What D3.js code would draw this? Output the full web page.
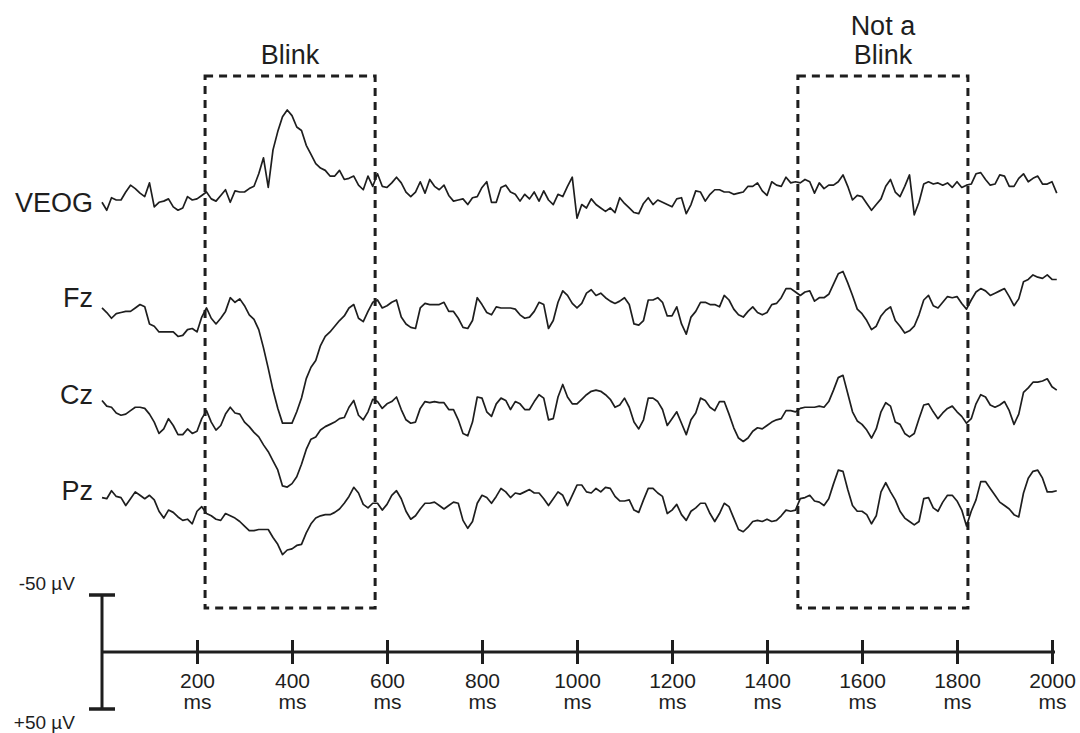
<!DOCTYPE html>
<html>
<head>
<meta charset="utf-8">
<script src="https://cdn.jsdelivr.net/npm/d3@7"></script>
<style>
  body { margin: 0; background: #fff; }
  svg { display: block; font-family: "Liberation Sans", Arial, Helvetica, sans-serif; }
</style>
</head>
<body>
<div id="plot"></div>
<script>
// One sample every 10 ms, starting at 0 ms. Values in µV (negative is drawn up).
const stepMs = 10;

const veog = [
  2, 9, -2, 0, 0, -7, -13, -10, -6, -3,
  -15, 6, 2, 1, -1, 6, 9, 7, -3, 0,
  -1, -4, -7, -1, 1, -4, -9, 2, -8, -7,
  -7, -10, -12, -23, -37, -11, -44, -60, -73, -79,
  -74, -64, -61, -48, -40, -32, -28, -26, -21, -21,
  -26, -18, -19, -21, -13, -9, -21, -12, -23, -12,
  -11, -15, -20, -15, -7, -3, -7, -16, -6, -18,
  -12, -9, -13, -4, 1, 0, -1, 4, -2, -3,
  -11, -16, 2, 2, -11, -13, -7, -5, 1, -5,
  -1, -7, 1, -8, 0, 4, -5, -3, -12, -20,
  16, 4, 7, -1, 4, 7, 10, 7, 11, -2,
  3, 7, 11, 12, 3, -2, 4, 0, 2, 4,
  6, -1, -2, 12, 4, -8, -7, 1, -5, -9,
  -9, -7, -7, -5, -6, -7, -12, -12, -15, -8,
  -4, -16, -13, -12, -20, -15, -16, -15, -18, -16,
  -6, -15, -10, -13, -13, -16, -22, -12, 0, -4,
  -3, 3, 9, 4, -1, -12, -18, -7, -3, -12,
  -22, 13, 2, -14, -16, -14, -15, -13, -15, -11,
  -16, -11, -13, -14, -23, -24, -18, -13, -14, -22,
  -21, -12, -12, -19, -23, -16, -19, -21, -14, -14, -16, -6
];

const fz = [
  7, 11, 16, 12, 11, 10, 10, 7, 4, 6,
  21, 23, 28, 28, 28, 28, 32, 31, 26, 25,
  28, 15, 7, 16, 21, 16, 10, -2, 2, -1,
  5, 13, 17, 26, 42, 60, 79, 95, 108, 108,
  108, 98, 86, 69, 59, 53, 40, 32, 28, 23,
  18, 14, 7, 4, 16, 19, 10, 2, 0, 7,
  5, 2, 0, 15, 21, 24, 25, 7, 3, 4,
  4, 4, 2, 10, 10, 16, 24, 25, 18, -2,
  4, 11, 13, 6, 7, 7, 7, 8, 13, 16,
  15, 10, 2, 4, 25, 18, 2, -8, -4, 3,
  7, 3, -6, -9, -4, -6, -2, 1, 3, 1,
  -2, 4, 21, 22, 18, 0, 0, -2, 2, 14,
  14, 6, 21, 30, 15, 10, 2, 2, 4, 4,
  6, -4, 0, 8, 13, 15, 10, 6, 11, 13,
  11, 4, 3, -2, -10, -10, -7, -4, -7, -8,
  1, -2, -2, -5, -14, -23, -25, -15, -4, 8,
  12, 18, 26, 23, 14, 9, 6, 18, 23, 29,
  27, 23, 13, 0, -4, 5, 7, 2, -3, -2,
  -3, 3, 8, 0, -7, -10, -8, -4, -6, -8,
  -10, -3, 5, -1, -16, -18, -22, -20, -19, -22, -18, -18
];

const cz = [
  3, 8, 9, 14, 16, 15, 12, 9, 9, 10,
  15, 22, 32, 28, 19, 25, 33, 33, 28, 32,
  30, 19, 12, 22, 29, 25, 15, 9, 14, 15,
  22, 26, 31, 35, 42, 48, 56, 64, 78, 79,
  76, 70, 59, 46, 37, 35, 29, 26, 24, 22,
  19, 18, 9, 3, 16, 20, 13, 2, 4, 10,
  6, 4, 0, 11, 20, 23, 22, 10, 4, 5,
  4, 5, 5, 11, 11, 20, 32, 34, 22, 0,
  1, 13, 17, 6, 1, 3, 11, 4, 6, 11,
  11, 4, -2, 1, 20, 19, 0, -11, 0, 6,
  6, 2, -2, -5, -6, -5, -2, 2, 9, 7,
  1, 9, 22, 28, 20, 1, 1, 4, 11, 25,
  19, 13, 23, 33, 20, 14, 1, 3, 9, 12,
  4, 4, 15, 27, 36, 39, 36, 30, 27, 28,
  25, 22, 20, 19, 12, 12, 13, 10, 9, 9,
  9, 8, 9, 4, -6, -17, -19, -3, 13, 21,
  24, 29, 36, 28, 13, 5, 8, 22, 24, 32,
  35, 32, 19, 7, 6, 13, 19, 14, 10, 8,
  13, 17, 23, 19, 6, -2, 0, 7, 9, 7,
  4, 12, 24, 15, -4, -8, -13, -13, -14, -16, -9, -6
];

const pz = [
  4, 5, -2, 3, 4, 11, 5, -1, 2, 5,
  2, 6, 16, 22, 15, 17, 21, 24, 23, 27,
  16, 12, 18, 20, 23, 24, 18, 20, 22, 25,
  29, 33, 33, 32, 32, 32, 39, 45, 54, 50,
  49, 46, 45, 35, 27, 22, 20, 19, 19, 17,
  14, 9, 3, -5, 0, 10, 13, 9, 9, 15,
  10, 2, -2, 5, 16, 23, 20, 14, 9, 9,
  8, 11, 14, 11, 8, 9, 24, 31, 25, 9,
  2, 4, 9, 3, -4, -1, 4, 0, 1, -1,
  -3, 0, 0, 5, 11, 5, -1, 2, 11, 2,
  -7, -7, -1, 0, -4, -1, -5, -4, 3, 7,
  7, 6, 15, 17, 6, -4, -4, 0, 3, 18,
  15, 10, 19, 24, 16, 13, 9, 9, 18, 25,
  18, 9, 12, 22, 32, 34, 30, 25, 24, 25,
  23, 25, 24, 20, 15, 16, 15, 5, 4, 2,
  7, 8, 11, 5, -8, -20, -19, -3, 11, 16,
  16, 19, 27, 20, -1, -9, -1, 6, 16, 22,
  25, 28, 25, 5, 4, 13, 16, 8, 2, 2,
  7, 15, 29, 16, 6, -10, -10, -4, 2, 8,
  11, 14, 19, 21, 0, -13, -19, -20, -13, -1, -1, -2
];

const channelNames = ["VEOG", "Fz", "Cz", "Pz"];
const tickTimes = [200, 400, 600, 800, 1000, 1200, 1400, 1600, 1800, 2000];
const windowStarts = [217, 1465];
const windowEnds = [575, 1823];
const windowLabels = [["Blink"], ["Not a", "Blink"]];
const scaleBarUV = [-50, 50];

// Layout
const width = 1080, height = 733;
const baselines = [200, 300, 397, 493];
const axisY = 652;
const boxTop = 76, boxBottom = 608;
const ink = "#1e1e1e";

const svg = d3.select("#plot")
  .append("svg")
  .attr("width", width)
  .attr("height", height);

const x = d3.scaleLinear([0, 2000], [102, 1052]);
// µV -> vertical offset in px (negative up)
const yUV = d3.scaleLinear([-50, 50], [-57, 57]);

// Analysis windows
const win = svg.append("g");
win.selectAll("rect")
  .data(windowStarts)
  .join("rect")
    .attr("x", d => x(d))
    .attr("y", boxTop)
    .attr("width", (d, i) => x(windowEnds[i]) - x(d))
    .attr("height", boxBottom - boxTop)
    .attr("fill", "none")
    .attr("stroke", ink)
    .attr("stroke-width", 3)
    .attr("stroke-dasharray", "8,6");

win.selectAll("text")
  .data(windowLabels)
  .join("text")
    .attr("x", (d, i) => x((windowStarts[i] + windowEnds[i]) / 2))
    .attr("y", d => 64 - (d.length - 1) * 29)
    .attr("text-anchor", "middle")
    .attr("fill", ink)
    .style("font-size", "27px")
    .selectAll("tspan")
    .data(d => d)
    .join("tspan")
      .attr("x", function() { return this.parentNode.getAttribute("x"); })
      .attr("dy", (d, i) => i ? 29 : 0)
      .text(d => d);

// Traces
const traces = [veog, fz, cz, pz];
const line = d3.line()
  .x((d, i) => x(i * stepMs))
  .y(d => yUV(d));

const ch = svg.selectAll("g.channel")
  .data(channelNames)
  .join("g")
    .attr("class", "channel")
    .attr("transform", (d, i) => `translate(0, ${baselines[i]})`);

ch.append("path")
  .attr("d", (d, i) => line(traces[i]))
  .attr("fill", "none")
  .attr("stroke", ink)
  .attr("stroke-width", 1.7)
  .attr("stroke-linejoin", "round");

ch.append("text")
  .attr("x", 93)
  .attr("y", (d, i) => i === 0 ? 3 : -2)
  .attr("dominant-baseline", "central")
  .attr("text-anchor", "end")
  .attr("fill", ink)
  .style("font-size", "27px")
  .text(d => d);

// Time axis
const xAxis = d3.axisBottom(x)
  .tickValues(tickTimes)
  .tickSizeInner(12)
  .tickSizeOuter(0)
  .tickFormat(d => d);

const xG = svg.append("g")
  .attr("transform", `translate(0, ${axisY})`)
  .call(xAxis);

xG.select(".domain")
  .attr("d", `M${x(0)},0H${x(2000) + 3}`)
  .attr("stroke", ink)
  .attr("stroke-width", 3);
xG.selectAll(".tick line")
  .attr("y1", -12)
  .attr("y2", 12)
  .attr("stroke", ink)
  .attr("stroke-width", 3);
xG.selectAll(".tick text").remove();
const tl = xG.selectAll(".tick")
  .append("text")
    .attr("fill", ink)
    .attr("text-anchor", "middle")
    .style("font-size", "21px")
    .style("font-family", "'Liberation Sans', Arial, sans-serif");
tl.append("tspan").attr("x", 0).attr("y", 36).text(d => d);
tl.append("tspan").attr("x", 0).attr("y", 57).text("ms");

// Voltage scale bar
const bar = svg.append("g")
  .attr("transform", `translate(${x(0)}, ${axisY})`);
bar.append("line")
  .attr("y1", yUV(scaleBarUV[0]))
  .attr("y2", yUV(scaleBarUV[1]))
  .attr("stroke", ink)
  .attr("stroke-width", 3);
bar.selectAll("line.cap")
  .data(scaleBarUV)
  .join("line")
    .attr("class", "cap")
    .attr("x1", -13)
    .attr("x2", 13)
    .attr("y1", d => yUV(d))
    .attr("y2", d => yUV(d))
    .attr("stroke", ink)
    .attr("stroke-width", 3.5);
bar.selectAll("text")
  .data(scaleBarUV)
  .join("text")
    .attr("x", -27)
    .attr("y", d => yUV(d) + (d < 0 ? -5 : 20))
    .attr("text-anchor", "end")
    .attr("fill", ink)
    .style("font-size", "19px")
    .text(d => `${d > 0 ? "+" : ""}${d} µV`);
</script>
</body>
</html>
